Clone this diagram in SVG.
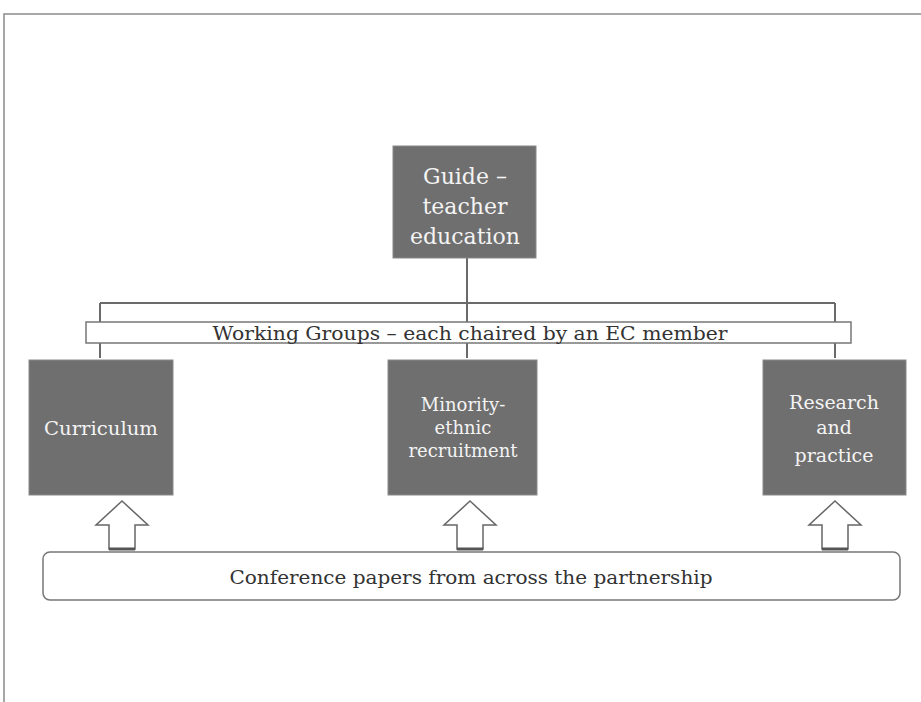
<svg xmlns="http://www.w3.org/2000/svg" width="921" height="702" viewBox="0 0 921 702">
<style>
.box{fill:#6f6f6f;stroke:#8a8a8a;stroke-width:1}
.wt{fill:#f4f4f4;font-family:"DejaVu Serif","Liberation Serif",serif;text-anchor:middle}
.dk{fill:#333;font-family:"DejaVu Serif","Liberation Serif",serif;text-anchor:middle}
.ln{stroke:#6a6a6a;stroke-width:2;fill:none}
.bar{fill:#fff;stroke:#777;stroke-width:1.5}
.arr{fill:#fff;stroke:#666;stroke-width:1.5}
</style>
<rect width="921" height="702" fill="#fff"/>
<g id="frame"><path d="M4 702 V14 H921" fill="none" stroke="#8a8a8a" stroke-width="1.5"/></g>
<g id="connectors">
<path class="ln" d="M467 258 V358"/>
<path class="ln" d="M100 303 H835"/>
<path class="ln" d="M100 303 V358 M835 303 V358"/>
<path class="arr" d="M122 501 L148 525 L135 525 L135 549 L109 549 L109 525 L96 525 Z"/>
<path class="arr" d="M470 501 L496 525 L483 525 L483 549 L457 549 L457 525 L444 525 Z"/>
<path class="arr" d="M835 501 L861 525 L848 525 L848 549 L822 549 L822 525 L809 525 Z"/>
<path d="M109 549 H135 M457 549 H483 M822 549 H848" stroke="#555" stroke-width="3"/>
</g>
<g id="guide"><rect class="box" x="393" y="146" width="143" height="112"/>
<text class="wt" font-size="22"><tspan x="465" y="184">Guide –</tspan><tspan x="465" y="214">teacher</tspan><tspan x="465" y="244">education</tspan></text></g>
<g id="working-groups"><rect class="bar" x="86" y="322" width="765" height="21"/>
<text class="dk" x="470" y="340" font-size="18" textLength="515" lengthAdjust="spacingAndGlyphs">Working Groups – each chaired by an EC member</text></g>
<g id="curriculum"><rect class="box" x="29" y="360" width="144" height="135"/>
<text class="wt" x="101" y="435" font-size="19" textLength="114" lengthAdjust="spacingAndGlyphs">Curriculum</text></g>
<g id="minority"><rect class="box" x="388" y="360" width="149" height="135"/>
<text class="wt" font-size="18"><tspan x="463" y="411">Minority-</tspan><tspan x="463" y="434">ethnic</tspan><tspan x="463" y="457">recruitment</tspan></text></g>
<g id="research"><rect class="box" x="763" y="360" width="143" height="135"/>
<text class="wt" font-size="19"><tspan x="834" y="409">Research</tspan><tspan x="834" y="434">and</tspan><tspan x="834" y="462">practice</tspan></text></g>
<g id="conference"><rect class="bar" x="43" y="552" width="857" height="48" rx="7"/>
<text class="dk" x="471" y="584" font-size="18" textLength="483" lengthAdjust="spacingAndGlyphs">Conference papers from across the partnership</text></g>
</svg>
